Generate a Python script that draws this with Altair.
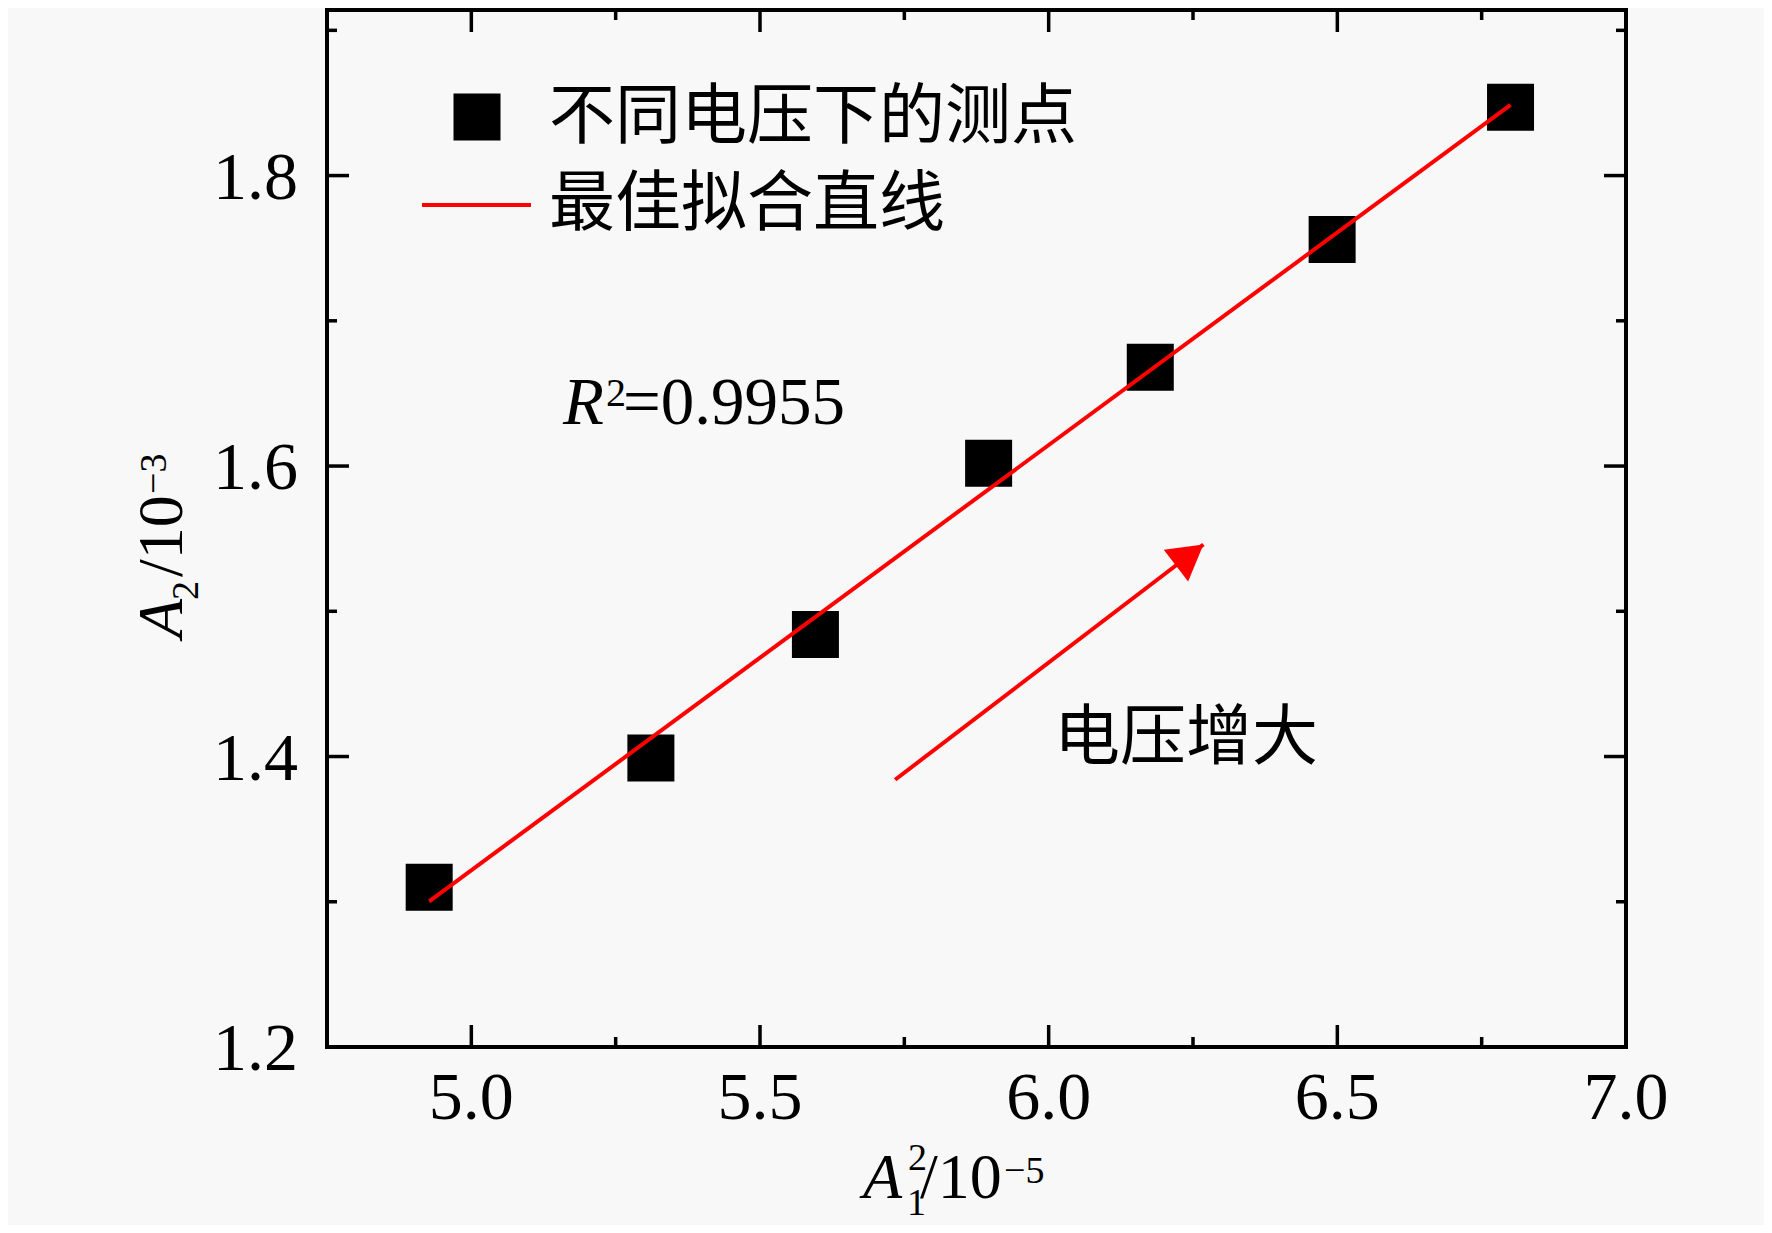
import altair as alt
import pandas as pd

# ---- data ----
a1_sq = [4.927, 5.311, 5.596, 5.896, 6.176, 6.491, 6.800]   # A1^2 / 1e-5
a2 = [1.310, 1.399, 1.484, 1.602, 1.668, 1.756, 1.847]      # A2 / 1e-3
arrow_x = [5.734, 6.268]
arrow_y = [1.384, 1.546]
x_major = [5.0, 5.5, 6.0, 6.5, 7.0]
x_minor = [5.25, 5.75, 6.25, 6.75]
y_major = [1.2, 1.4, 1.6, 1.8]
y_minor = [1.3, 1.5, 1.7, 1.9]
legend_labels = ["不同电压下的测点", "最佳拟合直线"]
r2_text = "=0.9955"
annot_text = "电压增大"

W, H = 1299, 1037
SERIF = "Liberation Serif"
CJK = "Noto Sans CJK SC"
RED = "#ff0000"

xs = alt.Scale(domain=[4.75, 7.0], nice=False, zero=False)
ys = alt.Scale(domain=[1.2, 1.914], nice=False, zero=False)


def X(f="x"):
    return alt.X(f"{f}:Q", scale=xs, axis=None)


def Y(f="y"):
    return alt.Y(f"{f}:Q", scale=ys, axis=None)


pts = pd.DataFrame({"x": a1_sq, "y": a2})

points = alt.Chart(pts).mark_square(size=2209, color="black", opacity=1).encode(
    x=X(), y=Y())

fit = alt.Chart(pts).transform_regression("x", "y", method="linear").mark_line(
    color=RED, strokeWidth=4).encode(x=X(), y=Y())

arrow_df = pd.DataFrame({"x": [arrow_x[0]], "y": [arrow_y[0]],
                         "x2": [arrow_x[1]], "y2": [arrow_y[1]]})
shaft = alt.Chart(arrow_df).mark_rule(color=RED, strokeWidth=4).encode(
    x=X(), y=Y(), x2="x2:Q", y2="y2:Q")
head = alt.Chart(pd.DataFrame({"x": [arrow_x[1]], "y": [arrow_y[1]]})).mark_point(
    shape="triangle-up", filled=True, color=RED, opacity=1, size=1600, angle=52.5,
    xOffset=-13.7, yOffset=10.5).encode(x=X(), y=Y())


def xticks(vals, length):
    d = pd.DataFrame({"x": vals})
    b = alt.Chart(d).mark_rule(color="black", strokeWidth=3.5).encode(
        x=X(), y=alt.value(H), y2=alt.value(H - length))
    t = alt.Chart(d).mark_rule(color="black", strokeWidth=3.5).encode(
        x=X(), y=alt.value(0), y2=alt.value(length))
    return [b, t]


def yticks(vals, length):
    d = pd.DataFrame({"y": vals})
    l = alt.Chart(d).mark_rule(color="black", strokeWidth=3.5).encode(
        y=Y(), x=alt.value(0), x2=alt.value(length))
    r = alt.Chart(d).mark_rule(color="black", strokeWidth=3.5).encode(
        y=Y(), x=alt.value(W), x2=alt.value(W - length))
    return [l, r]


# tick labels
xlab = alt.Chart(pd.DataFrame({"x": x_major})).mark_text(
    font=SERIF, fontSize=68, color="black", align="center", baseline="alphabetic").encode(
    x=X(), y=alt.value(H + 72), text=alt.Text("x:Q", format=".1f"))
ylab = alt.Chart(pd.DataFrame({"y": y_major})).mark_text(
    font=SERIF, fontSize=68, color="black", align="right", baseline="alphabetic", dy=23).encode(
    y=Y(), x=alt.value(-29), text=alt.Text("y:Q", format=".1f"))

one = pd.DataFrame({"k": [0]})


def txt(s, x, y, size, font=SERIF, style="normal", angle=0):
    return alt.Chart(one).mark_text(
        text=s, font=font, fontSize=size, fontStyle=style, color="black",
        align="left", baseline="alphabetic", angle=angle).encode(
        x=alt.value(x), y=alt.value(y))


# legend
leg_sq = alt.Chart(one).mark_square(size=2209, color="black", opacity=1).encode(
    x=alt.value(150), y=alt.value(107))
leg_line = alt.Chart(one).mark_rule(color=RED, strokeWidth=4).encode(
    x=alt.value(95), x2=alt.value(204), y=alt.value(195))

texts = [
    txt(legend_labels[0], 222, 128, 66, font=CJK),
    txt(legend_labels[1], 222, 215, 66, font=CJK),
    txt(annot_text, 727, 749, 66, font=CJK),
    # R^2 = 0.9955
    txt("R", 236, 414, 67, style="italic"),
    txt("2", 279, 396, 40),
    txt(r2_text, 296, 414, 67),
    # x title  A1^2/10^-5
    txt("A", 536, 1188, 64, style="italic"),
    txt("2", 581, 1160, 38),
    txt("1", 580, 1205, 38),
    txt("/10", 593, 1188, 64),
    txt("\u22125", 677, 1173, 38),
    # y title  A2/10^-3 (rotated)
    txt("A", -145, 628, 64, style="italic", angle=270),
    txt("2", -129, 590, 38, angle=270),
    txt("/10", -145, 567, 64, angle=270),
    txt("\u22123", -161, 484, 38, angle=270),
]

layers = ([points, fit, shaft, head]
          + xticks(x_major, 22) + xticks(x_minor, 10)
          + yticks(y_major, 22) + yticks(y_minor, 10)
          + [xlab, ylab, leg_sq, leg_line] + texts)

chart = alt.layer(*layers).properties(
    width=W, height=H,
    autosize=alt.AutoSizeParams(type="none"),
    padding={"left": 319, "top": 2, "right": 138, "bottom": 178},
    background="#f8f8f8",
).configure_view(stroke="black", strokeWidth=4)

chart.save("out.html", embed_options={"renderer": "svg", "actions": False})
